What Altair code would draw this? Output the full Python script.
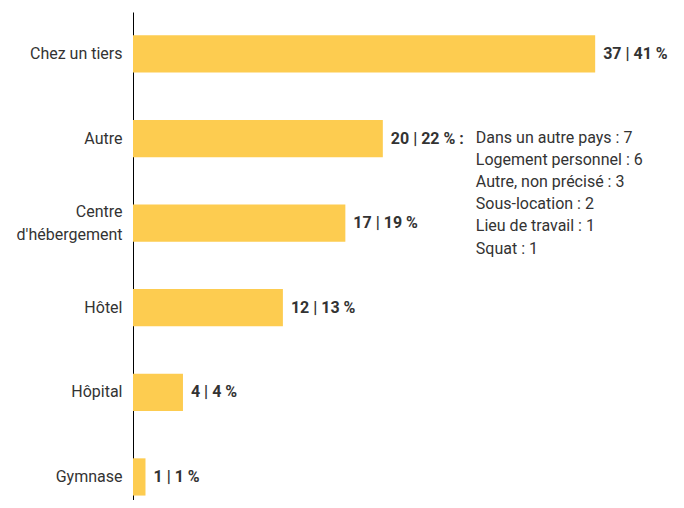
import altair as alt
import pandas as pd

categories = ["Chez un tiers", "Autre", "Centre\nd'hébergement", "Hôtel", "Hôpital", "Gymnase"]
counts = [37, 20, 17, 12, 4, 1]
percents = [41, 22, 19, 13, 4, 1]
suffixes = ["", " :", "", "", "", ""]
autre_details = [
    "Dans un autre pays : 7",
    "Logement personnel : 6",
    "Autre, non précisé : 3",
    "Sous-location : 2",
    "Lieu de travail : 1",
    "Squat : 1",
]

df = pd.DataFrame({
    "cat": categories,
    "n": counts,
    "pct": percents,
    "label": [f"{c} | {p} %{s}" for c, p, s in zip(counts, percents, suffixes)],
})
det = pd.DataFrame({"cat": ["Autre"], "n": [counts[1]], "lines": [autre_details]})

FONT = "Roboto"
COLOR = "#FDCC50"
TXT = "#333333"

y = alt.Y("cat:N", sort=categories, title=None,
          scale=alt.Scale(paddingInner=0.56, paddingOuter=0.164, align=0.84),
          axis=alt.Axis(labelExpr="split(datum.value, '\\n')", labelFont=FONT,
                        labelFontSize=16, labelColor=TXT, labelPadding=11,
                        labelLineHeight=23,
                        labelOffset={"condition": {"test": "indexof(datum.value, '\\n') >= 0", "value": -11.5}, "value": 0},
                        ticks=False, domainColor="#000000",
                        domainWidth=1, labelLimit=200))
x = alt.X("n:Q", title=None, axis=None, scale=alt.Scale(domain=[0, 43.23], nice=False, zero=True))

bars = alt.Chart(df).mark_bar(color=COLOR).encode(x=x, y=y)
labels = alt.Chart(df).mark_text(align="left", baseline="middle", dx=8, font=FONT,
                                 fontSize=16, fontWeight="bold", color=TXT).encode(
    x=x, y=alt.Y("cat:N", sort=categories), text="label:N")
details = alt.Chart(det).mark_text(align="left", baseline="top", dx=93, dy=-9, font=FONT,
                                   fontSize=16, lineHeight=22.2, color=TXT).encode(
    x=x, y=alt.Y("cat:N", sort=categories), text="lines")

chart = alt.layer(bars, labels, details).properties(
    width=540, height=488,
    autosize=alt.AutoSizeParams(type="none"),
    padding={"left": 125, "top": 4, "right": 0, "bottom": 0},
).configure_view(stroke=None).configure_axis(grid=False)

chart.save("out.html", embed_options={"renderer": "svg", "actions": False})
